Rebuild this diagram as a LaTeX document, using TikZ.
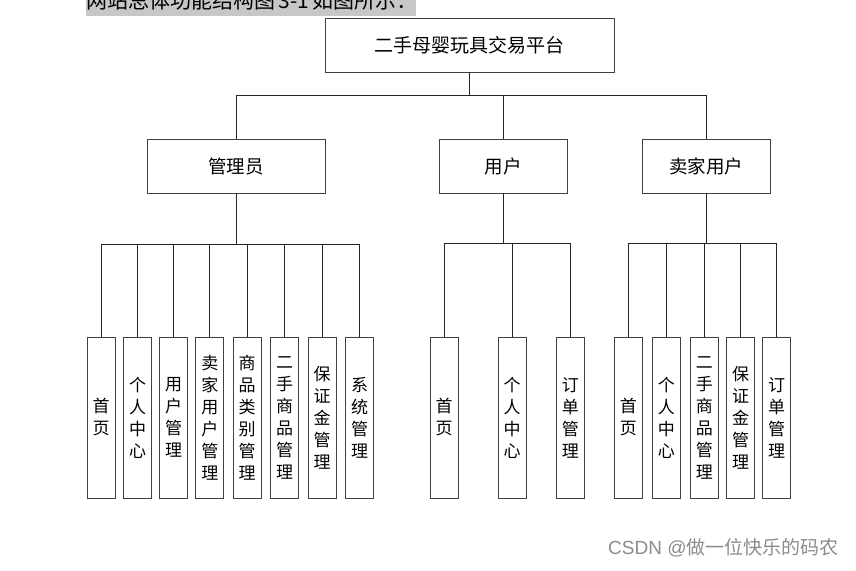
\documentclass[tikz,border=0pt]{standalone}
\usepackage{fontspec}
\newfontfamily\cjk{Noto Sans CJK SC}
\setmainfont{Liberation Sans}
\begin{document}
\begin{tikzpicture}[x=1pt,y=1pt,
  box/.style={draw=black!75, line width=0.9pt, fill=white, inner sep=0pt},
  topbox/.style={box, minimum width=289, minimum height=54, font=\cjk\fontsize{19}{20}\selectfont},
  midbox/.style={box, minimum height=54, font=\cjk\fontsize{18.5}{20}\selectfont},
  leaf/.style={box, minimum width=28, minimum height=161, align=center, font=\cjk\fontsize{17}{22}\selectfont},
  conn/.style={draw=black!85, line width=0.8pt}]
\useasboundingbox (0,0) rectangle (856,-570);
\fill[white] (0,0) rectangle (856,-570);
% cut-off caption line at the top
\begin{scope}
\clip (0,0) rectangle (856,-570);
\fill[black!22] (86,0) rectangle (416,-16);
\node[anchor=base west, inner sep=0pt, font=\cjk\fontsize{21}{22}\selectfont] (cap) at (86,-9) {网站总体功能结构图\,3-1\,如图所示：};
\end{scope}
% nodes
\node[topbox] (root) at (469.5,-45) {二手母婴玩具交易平台};
\node[midbox, minimum width=178] (admin) at (236,-166) {管理员};
\node[midbox, minimum width=128] (user) at (503,-166) {用户};
\node[midbox, minimum width=128] (seller) at (706,-166) {卖家用户};
% admin leaves
\node[leaf] (a1) at (101.2,-417.5) {首\\页};
\node[leaf] (a2) at (137.5,-417.5) {个\\人\\中\\心};
\node[leaf] (a3) at (173.5,-417.5) {用\\户\\管\\理};
\node[leaf] (a4) at (209.8,-417.5) {卖\\家\\用\\户\\管\\理};
\node[leaf] (a5) at (247.2,-417.5) {商\\品\\类\\别\\管\\理};
\node[leaf] (a6) at (284.6,-417.5) {二\\手\\商\\品\\管\\理};
\node[leaf] (a7) at (322.1,-417.5) {保\\证\\金\\管\\理};
\node[leaf] (a8) at (359.6,-417.5) {系\\统\\管\\理};
% user leaves
\node[leaf] (u1) at (444,-417.5) {首\\页};
\node[leaf] (u2) at (512,-417.5) {个\\人\\中\\心};
\node[leaf] (u3) at (570.3,-417.5) {订\\单\\管\\理};
% seller leaves
\node[leaf] (s1) at (628.3,-417.5) {首\\页};
\node[leaf] (s2) at (666.3,-417.5) {个\\人\\中\\心};
\node[leaf] (s3) at (704.3,-417.5) {二\\手\\商\\品\\管\\理};
\node[leaf] (s4) at (740.5,-417.5) {保\\证\\金\\管\\理};
\node[leaf] (s5) at (776.7,-417.5) {订\\单\\管\\理};
% bar coordinates
\coordinate (bar0) at (0,-95);
\coordinate (barA) at (0,-244.3);
\coordinate (barU) at (0,-243);
\coordinate (barS) at (0,-243);
% connectors level 0 -> 1
\draw[conn] (root.south) -- (root.south |- bar0);
\draw[conn] (admin.north) |- (seller.north |- bar0) -- (seller.north);
\draw[conn] (user.north) -- (user.north |- bar0);
% admin -> leaves
\draw[conn] (admin.south) -- (admin.south |- barA);
\draw[conn] (a1.north) |- (a8.north |- barA) -- (a8.north);
\foreach \n in {a2,a3,a4,a5,a6,a7} \draw[conn] (\n.north) -- (\n.north |- barA);
% user -> leaves
\draw[conn] (user.south) -- (user.south |- barU);
\draw[conn] (u1.north) |- (u3.north |- barU) -- (u3.north);
\draw[conn] (u2.north) -- (u2.north |- barU);
% seller -> leaves
\draw[conn] (seller.south) -- (seller.south |- barS);
\draw[conn] (s1.north) |- (s5.north |- barS) -- (s5.north);
\foreach \n in {s2,s3,s4} \draw[conn] (\n.north) -- (\n.north |- barS);
% watermark
\node[anchor=west, inner sep=0pt, text=black!45, font=\fontsize{19}{20}\selectfont] (wm) at (608,-548) {CSDN @{\cjk 做一位快乐的码农}};
\end{tikzpicture}
\end{document}
